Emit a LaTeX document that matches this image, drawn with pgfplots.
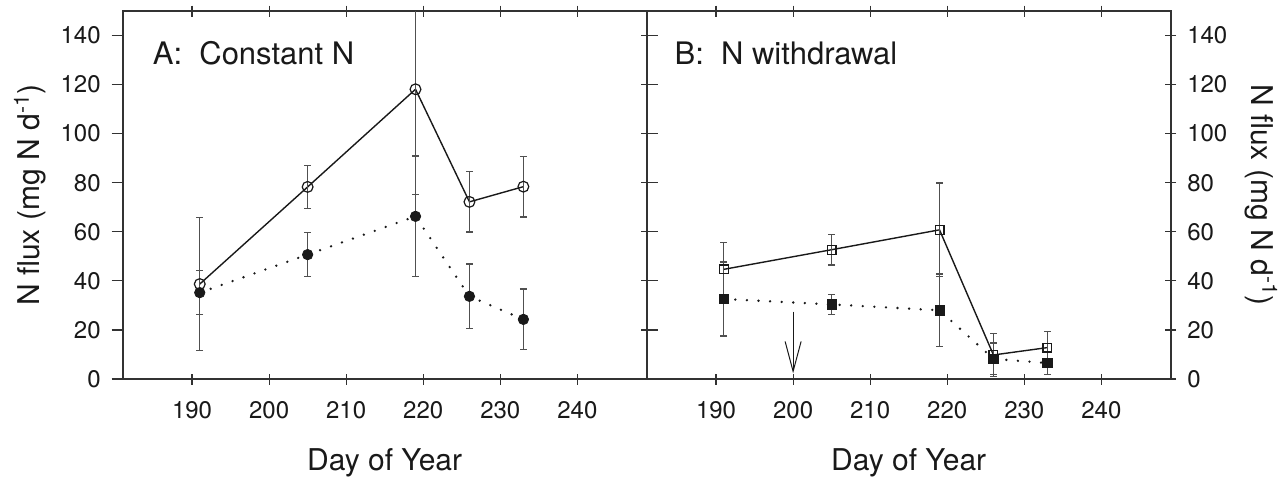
\documentclass[border=0pt]{standalone}
\usepackage{fontspec}
\setmainfont{TeX Gyre Heros}
\usepackage{pgfplots}
\pgfplotsset{compat=1.18}
\usetikzlibrary{arrows.meta}

\definecolor{axisgray}{RGB}{50,50,50}
\definecolor{errgray}{RGB}{80,80,80}
\definecolor{ink}{RGB}{25,25,25}

% A: constant N  (day, flux, sd)
\pgfplotstableread{
x y e
191 38.7 27.0
205 78.3 8.7
219 118.1 42.8
226 72.2 12.3
233 78.4 12.4
}\aopen
\pgfplotstableread{
x y e
191 35.2 9.0
205 50.7 8.9
219 66.3 24.6
226 33.7 13.2
233 24.3 12.4
}\afilled
% B: N withdrawal
\pgfplotstableread{
x y e
191 44.7 11.0
205 52.7 6.2
219 60.8 19.1
226 9.8 8.8
233 12.8 6.5
}\bopen
\pgfplotstableread{
x y e
191 32.6 15.1
205 30.4 4.0
219 28.0 14.8
226 8.2 6.5
233 6.5 4.7
}\bfilled

\pgfplotsset{
  fluxpanel/.style={
    scale only axis, width=262pt, height=184pt,
    xmin=181, xmax=249, ymin=0, ymax=150,
    xtick={190,200,...,240}, ytick={0,20,...,140},
    axis line style={axisgray, line width=1pt},
    every tick/.style={axisgray, line width=0.6pt},
    major tick length=5.5pt,
    xtick align=center,
    tick label style={font=\fontsize{12}{14}\selectfont, text=ink},
    /pgf/number format/assume math mode=true,
    xticklabel style={yshift=-5pt},
    label style={font=\fontsize{15}{18}\selectfont, text=ink},
    xlabel={Day of Year},
    xlabel style={at={(axis description cs:0.5,0)}, anchor=base, yshift=-45.5pt},
    ylabel={N flux (mg N d\textsuperscript{-1})},
  },
  errs/.style={
    error bars/.cd, y dir=both, y explicit,
    error bar style={solid, errgray, line width=0.6pt, line cap=butt},
    error mark options={solid, errgray, mark size=1.7pt, line width=0.6pt, rotate=90},
  },
  openline/.style={ink, line width=0.7pt, mark options={solid, fill=white, line width=0.6pt}},
  dotline/.style={ink, line width=1.3pt, line cap=round, dash pattern=on 0pt off 5.8pt,
    mark options={solid, fill=ink, line width=0.4pt}},
}

\begin{document}
\begin{tikzpicture}
\useasboundingbox (-61.35pt,-49pt) rectangle (582.15pt,189.5pt);

\begin{axis}[fluxpanel, at={(0,0)}, anchor=south west,
  ytick align=outside, yticklabel style={xshift=-2pt},
  ylabel style={at={(axis description cs:-0.177,0.5)}, anchor=center}]
  \addplot[openline, mark=o, mark size=2.7pt, errs] table[x=x, y=y, y error=e] {\aopen};
  \addplot[dotline, mark=*, mark size=2.6pt, errs] table[x=x, y=y, y error=e] {\afilled};
  \node[anchor=base west, font=\fontsize{15.5}{18}\selectfont, text=ink] at (axis cs:184,128.3) {A:\ \ Constant N};
\end{axis}

\begin{axis}[fluxpanel, at={(262pt,0)}, anchor=south west,
  ytick align=center, yticklabel pos=right, yticklabel style={xshift=2pt},
  ylabel style={at={(axis description cs:1.173,0.5)}, anchor=center, rotate=180}]
  \addplot[openline, mark=square, mark size=2.2pt, errs] table[x=x, y=y, y error=e] {\bopen};
  \addplot[dotline, mark=square*, mark size=2.3pt, errs] table[x=x, y=y, y error=e] {\bfilled};
  \node[anchor=base west, font=\fontsize{15.5}{18}\selectfont, text=ink] at (axis cs:183.7,128.3) {B:\ \ N withdrawal};
  \draw[ink, line width=0.5pt, -{Straight Barb[length=15pt, width=8pt]}] (axis cs:200,27.5) -- (axis cs:200,2.3);
\end{axis}
\end{tikzpicture}
\end{document}
